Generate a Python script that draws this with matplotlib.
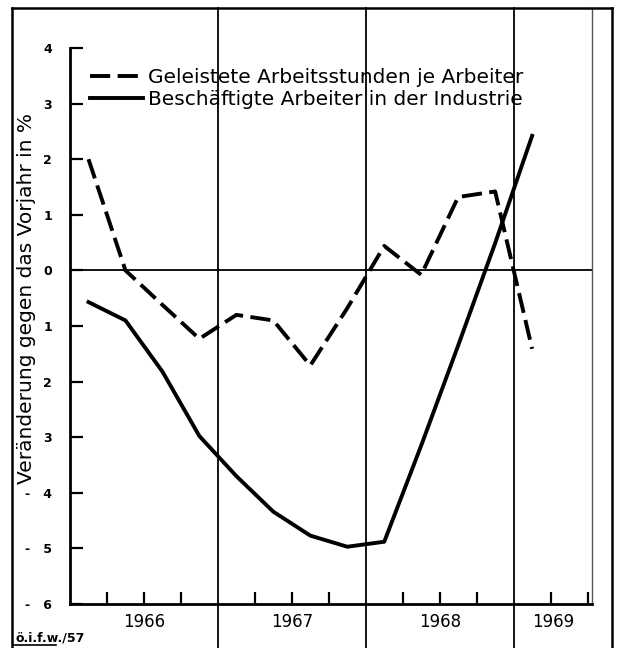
import matplotlib
matplotlib.use("Agg")
import matplotlib.pyplot as plt
from matplotlib.lines import Line2D
import numpy as np

# ---- data (quarterly values, change vs. previous year in %) ----
years = [1966, 1966, 1966, 1966, 1967, 1967, 1967, 1967,
         1968, 1968, 1968, 1968, 1969]
quarters = [1, 2, 3, 4, 1, 2, 3, 4, 1, 2, 3, 4, 1]
hours_per_worker = [2.0, 0.0, -0.62, -1.23, -0.8, -0.9, -1.71, -0.68,
                    0.44, -0.08, 1.32, 1.42, -1.41]
workers_employed = [-0.57, -0.9, -1.82, -2.98, -3.7, -4.34, -4.77, -4.97,
                    -4.88, -3.15, -1.35, 0.49, 2.42]
label_hours = "Geleistete Arbeitsstunden je Arbeiter"
label_workers = "Beschäftigte Arbeiter in der Industrie"
year_labels = ["1966", "1967", "1968", "1969"]
y_ticks = [-6, -5, -4, -3, -2, -1, 0, 1, 2, 3, 4]
y_tick_labels = ["-   6", "-   5", "-   4", "3", "2", "1", "0", "1", "2", "3", "4"]
ylabel = "Veränderung gegen das Vorjahr in %"
source = "ö.i.f.w./57"

x = np.array(years) + (np.array(quarters) - 0.5) / 4.0

W, H = 618, 648
fig = plt.figure(figsize=(W / 100, H / 100), dpi=100)
fig.patch.set_facecolor("white")
ax = fig.add_axes([70 / W, 1 - 604 / H, 522 / W, 556 / H])

xmin, xmax = 1966.0, 1969.53
ax.set_xlim(xmin, xmax)
ax.set_ylim(-6, 4)

# series
ax.plot(x, hours_per_worker, color="black", lw=2.8, linestyle=(0, (5.2, 1.9)),
        solid_joinstyle="miter", dash_capstyle="butt", label=label_hours)
ax.plot(x, workers_employed, color="black", lw=2.8, solid_joinstyle="round",
        label=label_workers)

# zero line
ax.axhline(0, color="black", lw=1.3)

# year separators extending beyond axes
top_frac = (604 - 8) / 556
bot_frac = (604 - 648) / 556
for yr in [1967, 1968, 1969]:
    ax.axvline(yr, ymin=bot_frac, ymax=top_frac, color="black", lw=1.3,
               clip_on=False)
# right border of plot area
ax.axvline(xmax, ymin=0, ymax=top_frac, color="#555555", lw=1.0, clip_on=False)

# spines
for s in ["top", "right"]:
    ax.spines[s].set_visible(False)
for s in ["left", "bottom"]:
    ax.spines[s].set_linewidth(2.0)

# y ticks
ax.set_yticks(y_ticks)
ax.set_yticklabels(y_tick_labels, fontsize=9, fontweight="bold")
ax.tick_params(axis="y", direction="in", length=9, width=1.6, pad=13)

# x ticks at quarter boundaries (not at year boundaries)
qticks = [yr + q / 4 for yr in range(1966, 1970) for q in (1, 2, 3)
          if yr + q / 4 < xmax]
ax.set_xticks(qticks)
ax.set_xticklabels([])
ax.tick_params(axis="x", direction="in", length=9, width=1.6)

# year labels
for i, lab in enumerate(year_labels):
    yr = 1966 + i
    xc = yr + 0.5 if yr + 1 <= xmax else (yr + xmax) / 2
    ax.text(xc, -0.033, lab, transform=ax.get_xaxis_transform(),
            ha="center", va="center", fontsize=12)

# y label
ax.set_ylabel(ylabel, fontsize=14.5)
ax.yaxis.set_label_coords((36 - 70) / 522, (604 - 298) / 556)

# legend
leg = ax.legend(loc="upper left", bbox_to_anchor=((90 - 70) / 522, (604 - 68) / 556),
                frameon=False, fontsize=14.5, handlelength=2.63,
                handletextpad=0.25, labelspacing=0.15, borderpad=0,
                borderaxespad=0)

# outer frame
fig.add_artist(Line2D([12 / W, 12 / W], [0, 1 - 8 / H], color="black", lw=1.8))
fig.add_artist(Line2D([12 / W, 612 / W], [1 - 8 / H, 1 - 8 / H], color="black", lw=1.8))
fig.add_artist(Line2D([612 / W, 612 / W], [0, 1 - 8 / H], color="black", lw=1.8))

# source note
fig.text(15 / W, 1 - 638 / H, source, fontsize=9, fontweight="bold",
         ha="left", va="center")
fig.add_artist(Line2D([14 / W, 56 / W], [1 - 645 / H, 1 - 645 / H], color="black", lw=1.2))

fig.savefig("out.png", dpi=100)
